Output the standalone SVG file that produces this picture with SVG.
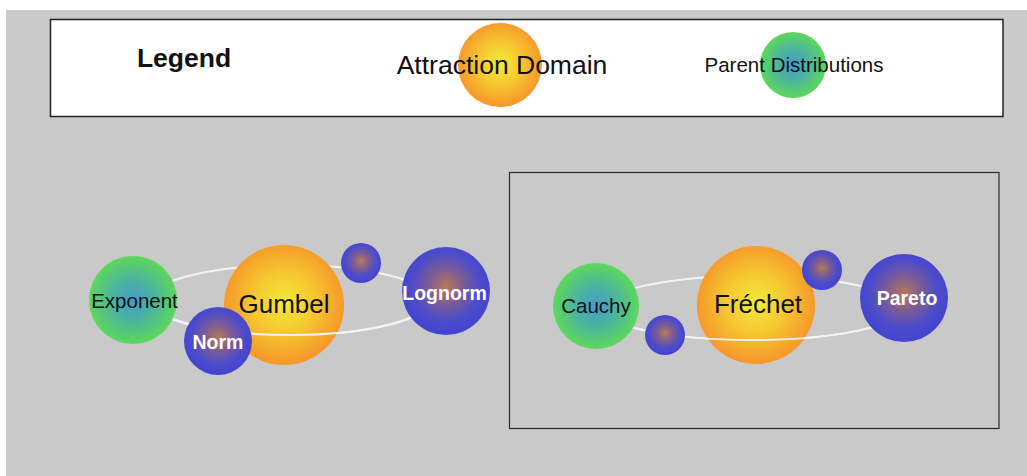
<svg xmlns="http://www.w3.org/2000/svg" width="1027" height="476" viewBox="0 0 1027 476">
  <defs>
    <radialGradient id="gOrange" cx="50%" cy="48%" r="50%">
      <stop offset="0%" stop-color="#f2ec3a"/>
      <stop offset="50%" stop-color="#f5c830"/>
      <stop offset="100%" stop-color="#f6992a"/>
    </radialGradient>
    <radialGradient id="gGreen" cx="50%" cy="50%" r="50%">
      <stop offset="0%" stop-color="#459bcc"/>
      <stop offset="45%" stop-color="#4cb2a2"/>
      <stop offset="100%" stop-color="#5cd85a"/>
    </radialGradient>
    <radialGradient id="gBlue" cx="50%" cy="45%" r="50%">
      <stop offset="0%" stop-color="#b87a58"/>
      <stop offset="40%" stop-color="#7c5c95"/>
      <stop offset="78%" stop-color="#4c4bcb"/>
      <stop offset="100%" stop-color="#4546cf"/>
    </radialGradient>
    <style>
      .box { fill: none; stroke: #2a2a2a; stroke-width: 1.2; }
      .orbit { fill: none; stroke: #f4f4f4; stroke-width: 2; }
      .orange { fill: url(#gOrange); }
      .green { fill: url(#gGreen); }
      .blue { fill: url(#gBlue); }
      .t { font-family: "Liberation Sans", Arial, Helvetica, sans-serif; text-anchor: middle; }
      .dark { fill: #111; }
      .light { fill: #fff; font-weight: bold; }
      .big { font-size: 26px; }
      .mid { font-size: 20.5px; }
      .wmid { font-size: 19.5px; }
    </style>
  </defs>

  <rect x="0" y="0" width="1027" height="476" fill="#ffffff"/>
  <rect x="6" y="10" width="1021" height="466" fill="#c9c9c9"/>

  <!-- Legend -->
  <g id="legend">
    <rect x="50.5" y="19.5" width="952.5" height="97" fill="#ffffff" stroke="#222" stroke-width="1.5"/>
    <text class="t dark" x="184" y="67" font-size="26.5px" font-weight="bold">Legend</text>
    <circle class="orange" cx="500" cy="65" r="42"/>
    <text class="t dark" x="502" y="73.5" font-size="26.5px">Attraction Domain</text>
    <circle class="green" cx="793" cy="65" r="33"/>
    <text class="t dark" x="794" y="72" font-size="20.5px">Parent Distributions</text>
  </g>

  <!-- Frechet group frame -->
  <rect id="frechet-frame" class="box" x="509.5" y="172.5" width="489.5" height="256"/>

  <!-- connectors: back orbits -->
  <g id="orbits-back">
    <ellipse class="orbit" cx="290" cy="300" rx="140" ry="35"/>
    <ellipse class="orbit" cx="752" cy="308" rx="150" ry="32"/>
  </g>

  <g id="gumbel">
    <circle class="orange" cx="284" cy="305" r="60"/>
    <text class="t dark big" x="284" y="313">Gumbel</text>
  </g>
  <g id="frechet">
    <circle class="orange" cx="756" cy="305" r="59"/>
    <text class="t dark big" x="758" y="313">Fréchet</text>
  </g>

  <!-- connectors: front arcs -->
  <g id="orbits-front">
    <path class="orbit" d="M150,300 A140,35 0 0 0 430,300"/>
    <path class="orbit" d="M602,308 A150,32 0 0 0 902,308"/>
  </g>

  <g id="exponent">
    <circle class="green" cx="133" cy="300" r="44"/>
    <text class="t dark mid" x="134.5" y="308">Exponent</text>
  </g>
  <g id="norm">
    <circle class="blue" cx="218" cy="341" r="34"/>
    <text class="t light wmid" x="218" y="349">Norm</text>
  </g>
  <g id="gumbel-satellite">
    <circle class="blue" cx="361" cy="263" r="20"/>
  </g>
  <g id="lognorm">
    <circle class="blue" cx="446" cy="291" r="44"/>
    <text class="t light wmid" x="444.5" y="300">Lognorm</text>
  </g>

  <g id="cauchy">
    <circle class="green" cx="596" cy="306" r="43"/>
    <text class="t dark mid" x="596" y="313">Cauchy</text>
  </g>
  <g id="frechet-satellite-low">
    <circle class="blue" cx="665" cy="335" r="20"/>
  </g>
  <g id="frechet-satellite-high">
    <circle class="blue" cx="822" cy="270" r="20"/>
  </g>
  <g id="pareto">
    <circle class="blue" cx="904" cy="298" r="44"/>
    <text class="t light wmid" x="907" y="305">Pareto</text>
  </g>
</svg>
